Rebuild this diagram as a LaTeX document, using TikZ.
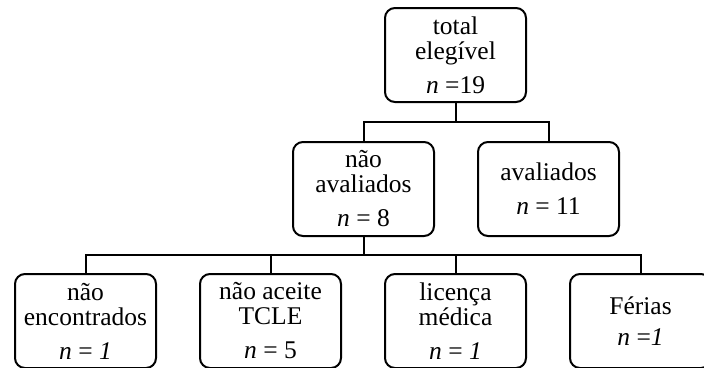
\documentclass[tikz,border=0pt]{standalone}
\usepackage{fontspec}
\setmainfont{Liberation Serif}
\usetikzlibrary{positioning}

\begin{document}
\begin{tikzpicture}[x=1pt, y=-1pt,
    box/.style={draw, line width=2pt, rounded corners=10pt, minimum width=141pt, minimum height=94pt, inner sep=0pt, align=center, font=\fontsize{25.5}{25}\selectfont},
    link/.style={line width=2pt}]
                \clip (0,0) rectangle (704,367);
                \fill [white] (0,0) rectangle (704,367);

                % top level
                \node [box] (total) at (455.5,55) {total\\elegível\\[9pt]\textit{n} =19};

                % second level
                \node [box] (naoaval) at (363.5,189) {não\\avaliados\\[9pt]\textit{n} = 8};
                \node [box] (aval) at (548.5,189) {avaliados\\[9pt]\textit{n} = 11};

                % third level
                \node [box] (naoenc) at (85.5,321) {não\\encontrados\\[9pt]\textit{n} = \textit{1}};
                \node [box] (tcle) at (270.5,321) {não aceite\\TCLE\\[9pt]\textit{n} = 5};
                \node [box] (licenca) at (455.5,321) {licença\\médica\\[9pt]\textit{n} = \textit{1}};
                \node [box] (ferias) at (640.5,321) {Férias\\[6pt]\textit{n} =\textit{1}};

                % forks
                \coordinate (fork1) at (455.5,122);
                \coordinate (fork2) at (363.5,255);
                \draw [link] (total.south) -- (fork1) -| (naoaval.north);
                \draw [link] (fork1) -| (aval.north);
                \draw [link] (naoaval.south) -- (fork2) -| (naoenc.north);
                \draw [link] (fork2) -| (tcle.north);
                \draw [link] (fork2) -| (licenca.north);
                \draw [link] (fork2) -| (ferias.north);
            \end{tikzpicture}
\end{document}
